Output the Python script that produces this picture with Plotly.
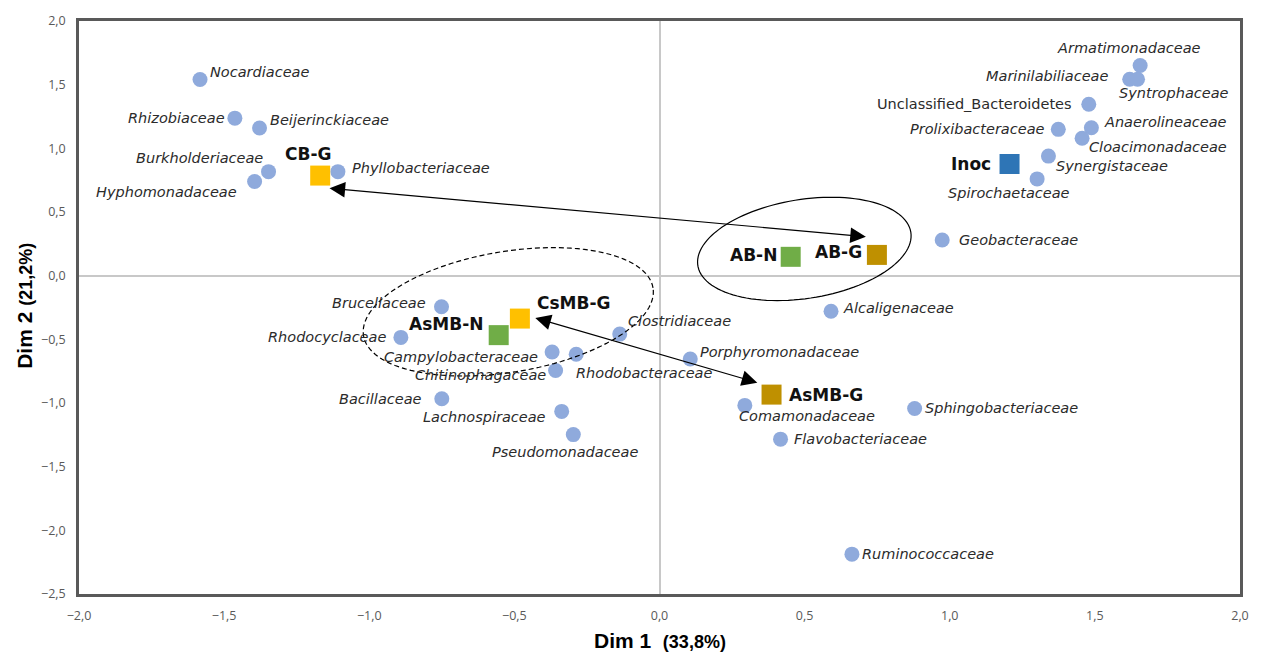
import numpy as np
import plotly.graph_objects as go

# ---- data ---------------------------------------------------------------
species = [
    "Nocardiaceae", "Rhizobiaceae", "Beijerinckiaceae", "Burkholderiaceae",
    "Hyphomonadaceae", "Phyllobacteriaceae", "Armatimonadaceae",
    "Marinilabiliaceae", "Syntrophaceae", "Unclassified_Bacteroidetes",
    "Prolixibacteraceae", "Anaerolineaceae", "Cloacimonadaceae",
    "Synergistaceae", "Spirochaetaceae", "Geobacteraceae", "Brucellaceae",
    "Rhodocyclaceae", "Campylobacteraceae", "Chitinophagaceae",
    "Rhodobacteraceae", "Clostridiaceae", "Porphyromonadaceae", "Bacillaceae",
    "Lachnospiraceae", "Pseudomonadaceae", "Alcaligenaceae", "Comamonadaceae",
    "Sphingobacteriaceae", "Flavobacteriaceae", "Ruminococcaceae",
]
species_dim1 = [
    -1.583, -1.463, -1.378, -1.347, -1.395, -1.108, 1.656, 1.620, 1.647,
    1.479, 1.374, 1.488, 1.456, 1.340, 1.301, 0.974, -0.751, -0.891, -0.370,
    -0.358, -0.287, -0.137, 0.106, -0.750, -0.337, -0.297, 0.591, 0.294,
    0.879, 0.417, 0.663,
]
species_dim2 = [
    1.541, 1.237, 1.160, 0.817, 0.739, 0.817, 1.650, 1.543, 1.543, 1.346,
    1.149, 1.162, 1.079, 0.939, 0.760, 0.280, -0.244, -0.485, -0.599, -0.745,
    -0.617, -0.459, -0.654, -0.967, -1.066, -1.248, -0.280, -1.019, -1.043,
    -1.284, -2.187,
]

samples = ["Inoc", "CB-G", "AB-N", "AB-G", "CsMB-G", "AsMB-N", "AsMB-G"]
sample_dim1 = [1.206, -1.169, 0.452, 0.749, -0.481, -0.554, 0.386]
sample_dim2 = [0.877, 0.786, 0.148, 0.163, -0.337, -0.467, -0.934]

# shifts between samples (start -> end)
shift_from = [(-1.142, 0.687), (-0.433, -0.329)]
shift_to = [(0.711, 0.306), (0.337, -0.840)]

x_ticks = [-2.0, -1.5, -1.0, -0.5, 0.0, 0.5, 1.0, 1.5, 2.0]
y_ticks = [-2.5, -2.0, -1.5, -1.0, -0.5, 0.0, 0.5, 1.0, 1.5, 2.0]

# ---- styling --------------------------------------------------------------
W, H = 1261, 657
M = dict(l=79, r=19, t=15, b=63)
XR, YR = [-2.0, 2.0], [-2.5, 2.0]
px_x = (W - M["l"] - M["r"]) / (XR[1] - XR[0])
px_y = (H - M["t"] - M["b"]) / (YR[1] - YR[0])

sample_colors = {
    "Inoc": "#2E75B6", "CB-G": "#FFC000", "CsMB-G": "#FFC000",
    "AB-N": "#70AD47", "AsMB-N": "#70AD47", "AB-G": "#BF9000",
    "AsMB-G": "#BF9000",
}

# label anchor and pixel offsets: (xanchor, xshift, yshift)
species_label = {
    "Nocardiaceae": ("left", 8, 7),
    "Rhizobiaceae": ("right", -8, 0),
    "Beijerinckiaceae": ("left", 8, 8),
    "Burkholderiaceae": ("right", -4, 14),
    "Hyphomonadaceae": ("right", -16, -10),
    "Phyllobacteriaceae": ("left", 12, 4),
    "Armatimonadaceae": ("center", -11, 18),
    "Marinilabiliaceae": ("right", -20, 3),
    "Syntrophaceae": ("left", -21, -14),
    "Unclassified_Bacteroidetes": ("right", -15, 0),
    "Prolixibacteraceae": ("right", -11, 0),
    "Anaerolineaceae": ("left", 11, 6),
    "Cloacimonadaceae": ("left", 5, -9),
    "Synergistaceae": ("left", 6, -10),
    "Spirochaetaceae": ("center", -28, -14),
    "Geobacteraceae": ("left", 15, 0),
    "Brucellaceae": ("right", -14, 4),
    "Rhodocyclaceae": ("right", -13, 0),
    "Campylobacteraceae": ("right", -12, -5),
    "Chitinophagaceae": ("right", -8, -4),
    "Rhodobacteraceae": ("left", -2, -19),
    "Clostridiaceae": ("left", 6, 13),
    "Porphyromonadaceae": ("left", 8, 7),
    "Bacillaceae": ("right", -18, 0),
    "Lachnospiraceae": ("right", -14, -6),
    "Pseudomonadaceae": ("center", -8, -17),
    "Alcaligenaceae": ("left", 10, 3),
    "Comamonadaceae": ("left", -8, -11),
    "Sphingobacteriaceae": ("left", 8, 0),
    "Flavobacteriaceae": ("left", 11, 0),
    "Ruminococcaceae": ("left", 8, 0),
}
sample_label = {
    "Inoc": ("right", -17, 0),
    "CB-G": ("center", -12, 22),
    "AB-N": ("right", -12, 2),
    "AB-G": ("right", -13, 3),
    "CsMB-G": ("left", 15, 16),
    "AsMB-N": ("right", -14, 11),
    "AsMB-G": ("left", 15, 0),
}

LABEL_FONT = "DejaVu Sans, Open Sans, sans-serif"
TITLE_FONT = "Liberation Sans, Arial, sans-serif"

fig = go.Figure()

fig.add_trace(go.Scatter(
    x=species_dim1, y=species_dim2, mode="markers",
    marker=dict(symbol="circle", size=15, color="#8FAADC", line=dict(width=0)),
    hovertext=species, hoverinfo="text", showlegend=False,
))
fig.add_trace(go.Scatter(
    x=sample_dim1, y=sample_dim2, mode="markers",
    marker=dict(symbol="square", size=20,
                color=[sample_colors[s] for s in samples], line=dict(width=0)),
    hovertext=samples, hoverinfo="text", showlegend=False,
))

annotations = []
for name, x, y in zip(species, species_dim1, species_dim2):
    anchor, dx, dy = species_label[name]
    txt = name if name.startswith("Unclassified") else f"<i>{name}</i>"
    annotations.append(dict(
        x=x, y=y, text=txt, showarrow=False, xanchor=anchor, yanchor="middle",
        xshift=dx, yshift=dy,
        font=dict(family=LABEL_FONT, size=14.5, color="#2B2B2B"),
    ))
for name, x, y in zip(samples, sample_dim1, sample_dim2):
    anchor, dx, dy = sample_label[name]
    annotations.append(dict(
        x=x, y=y, text=f"<b>{name}</b>", showarrow=False, xanchor=anchor,
        yanchor="middle", xshift=dx, yshift=dy,
        font=dict(family=LABEL_FONT, size=17, color="#111111"),
    ))
for (x0, y0), (x1, y1) in zip(shift_from, shift_to):
    annotations.append(dict(
        x=x1, y=y1, ax=x0, ay=y0, xref="x", yref="y", axref="x", ayref="y",
        text="", showarrow=True, arrowhead=2, arrowside="end+start",
        arrowsize=2.6, arrowwidth=1.2, arrowcolor="#000000",
    ))

# axis titles
annotations.append(dict(
    x=0.5, y=-0.082, xref="paper", yref="paper", xanchor="center",
    yanchor="middle", showarrow=False,
    text='<b>Dim 1</b>  <span style="font-size:18px"><b>(33,8%)</b></span>',
    font=dict(family=TITLE_FONT, size=21, color="#000000"),
))
annotations.append(dict(
    x=-0.0465, y=0.503, xref="paper", yref="paper", xanchor="center",
    yanchor="middle", showarrow=False, textangle=-90,
    text='<b>Dim 2</b> <span style="font-size:18px"><b>(21,2%)</b></span>',
    font=dict(family=TITLE_FONT, size=21, color="#000000"),
))


def ellipse_path(cx, cy, a_px, b_px, tilt_deg, n=120):
    """Closed SVG path of a tilted ellipse, sized in screen pixels."""
    t = np.linspace(0, 2 * np.pi, n)
    th = np.radians(tilt_deg)
    u = a_px * np.cos(t)
    v = b_px * np.sin(t)
    dx = u * np.cos(th) - v * np.sin(th)
    dy = u * np.sin(th) + v * np.cos(th)
    xs = cx + dx / px_x
    ys = cy + dy / px_y
    pts = [f"{xv:.5f},{yv:.5f}" for xv, yv in zip(xs, ys)]
    return "M " + " L ".join(pts) + " Z"


shapes = [
    dict(type="path", xref="x", yref="y",
         path=ellipse_path(0.499, 0.210, 108, 50, 9),
         line=dict(color="#000000", width=1.2)),
    dict(type="path", xref="x", yref="y",
         path=ellipse_path(-0.521, -0.284, 147, 61, 9.5),
         line=dict(color="#000000", width=1.2, dash="5px,3px")),
]

tick_font = dict(family="Open Sans, sans-serif", size=12.5, color="#595959")
axis_common = dict(
    tickformat=".1f", showgrid=False, zeroline=True, zerolinecolor="#C8C8C8",
    zerolinewidth=1.5, showline=True, mirror=True, linecolor="#595959",
    linewidth=2.5, ticks="", tickfont=tick_font, ticklabelstandoff=8,
)
fig.update_layout(
    width=W, height=H, margin=M,
    paper_bgcolor="white", plot_bgcolor="white",
    separators=",.",
    annotations=annotations, shapes=shapes,
    xaxis=dict(range=XR, tickvals=x_ticks, **axis_common),
    yaxis=dict(range=YR, tickvals=y_ticks, **axis_common),
)

fig.write_html("out.html")
